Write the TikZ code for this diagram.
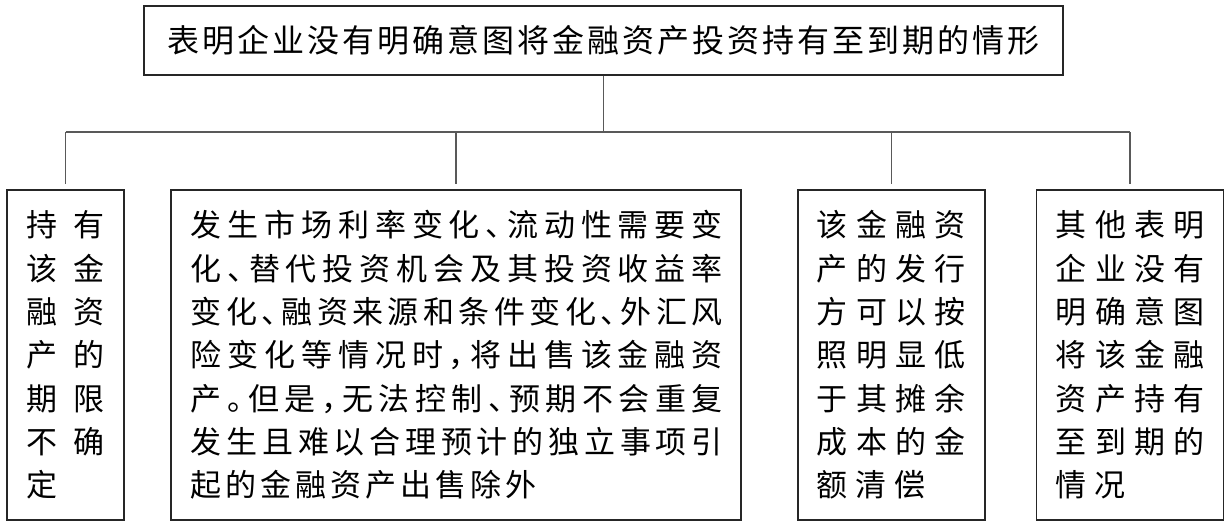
\documentclass[tikz,border=0pt]{standalone}
\usepackage{fontspec}
\newfontfamily\cjk{Noto Sans CJK SC}
% letter-spacing helpers
\let\lsend\relax
\def\ls#1#2{\def\lssep{#1}\lsa#2\lsend}
\def\lsa#1{#1\futurelet\lsnext\lsb}
\def\lsb{\ifx\lsnext\lsend\expandafter\lsstop\else\expandafter\lssepgo\fi}
\def\lssepgo{\lssep\lsa}
\def\lsstop\lsend{}
\newcommand\jl[2]{\hbox to #1{\ls{\hfill}{#2}}}
\newcommand\fl[2]{\hbox{\ls{\hskip#1\relax}{#2}}}
\newcommand\hp[1]{\hbox to .5em{#1\hss}}
\newcommand\lines[1]{\vtop{\baselineskip=43.33pt\lineskiplimit=-100pt\lineskip=0pt #1}}
\begin{document}
\begin{tikzpicture}[x=1pt,y=-1pt,
  box/.style={draw=black!85,line width=1.3pt,rectangle,inner sep=0pt},
  conn/.style={draw=black!65,line width=1.1pt},
  txt/.style={inner sep=0pt,anchor=base west,font=\cjk\fontsize{31pt}{43.33pt}\selectfont}]
\useasboundingbox[fill=white] (0,0) rectangle (1232,527);
\node[box,minimum width=919pt,minimum height=69pt,font=\cjk\fontsize{32pt}{36pt}\selectfont] (top) at (603.5,40.5)
  {\jl{872pt}{表明企业没有明确意图将金融资产投资持有至到期的情形}};
\node[box,minimum width=117pt,minimum height=330pt] (b1) at (65.5,355) {};
\node[box,minimum width=570pt,minimum height=330pt] (b2) at (456,355) {};
\node[box,minimum width=187pt,minimum height=330pt] (b3) at (891.5,355) {};
\node[box,minimum width=187pt,minimum height=330pt] (b4) at (1130,355) {};
\node[txt] (t1) at (26.5,236.8) {\lines{%
  \jl{78pt}{持有}\jl{78pt}{该金}\jl{78pt}{融资}\jl{78pt}{产的}\jl{78pt}{期限}\jl{78pt}{不确}\hbox{定}}};
\node[txt] (t2) at (190.5,236.8) {\lines{%
  \jl{532pt}{发生市场利率变化{\hp{、}}流动性需要变}%
  \jl{532pt}{化{\hp{、}}替代投资机会及其投资收益率}%
  \jl{532pt}{变化{\hp{、}}融资来源和条件变化{\hp{、}}外汇风}%
  \jl{532pt}{险变化等情况时{\hp{，}}将出售该金融资}%
  \jl{532pt}{产{\hp{。}}但是{\hp{，}}无法控制{\hp{、}}预期不会重复}%
  \jl{532pt}{发生且难以合理预计的独立事项引}%
  \fl{4pt}{起的金融资产出售除外}}};
\node[txt] (t3) at (816.5,236.8) {\lines{%
  \jl{149pt}{该金融资}\jl{149pt}{产的发行}\jl{149pt}{方可以按}\jl{149pt}{照明显低}%
  \jl{149pt}{于其摊余}\jl{149pt}{成本的金}\fl{8pt}{额清偿}}};
\node[txt] (t4) at (1055.5,236.8) {\lines{%
  \jl{149pt}{其他表明}\jl{149pt}{企业没有}\jl{149pt}{明确意图}\jl{149pt}{将该金融}%
  \jl{149pt}{资产持有}\jl{149pt}{至到期的}\fl{8pt}{情况}}};
\coordinate (j) at (603.5,132);
\coordinate (hl) at (b1.north |- j);
\coordinate (hr) at (b4.north |- j);
\draw[conn] (top.south) -- (j);
\draw[conn] (hl) -- (hr);
\foreach \b in {b1,b2,b3,b4} \draw[conn,shorten >=5pt] (\b.north |- j) -- (\b.north);
\end{tikzpicture}
\end{document}
